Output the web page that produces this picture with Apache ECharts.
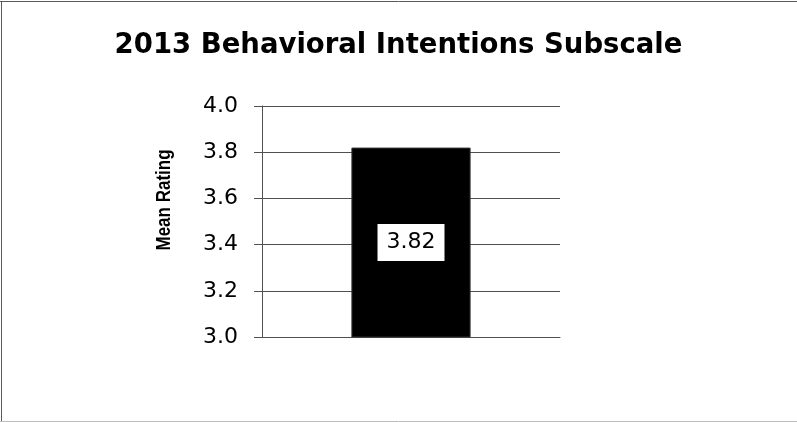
<!DOCTYPE html>
<html>
<head>
<meta charset="utf-8">
<script src="https://cdn.jsdelivr.net/npm/echarts@6/dist/echarts.min.js"></script>
<style>
  html, body { margin: 0; padding: 0; background: #fff; }
  #chart { width: 797px; height: 422px; }
</style>
</head>
<body>
<div id="chart"></div>
<script>
// Chart data
const chartTitle = '2013 Behavioral Intentions Subscale';
const categories = ['2013'];
const meanRatings = [3.82];
const yAxisName = 'Mean Rating';
const yMin = 3.0;
const yMax = 4.0;
const yStep = 0.2;

const chart = echarts.init(document.getElementById('chart'), null, { renderer: 'canvas' });

const lineColor = '#505050';

chart.setOption({
  animation: false,
  backgroundColor: '#ffffff',
  title: {
    text: chartTitle,
    left: 'center',
    top: 24,
    textStyle: {
      fontFamily: 'DejaVu Sans',
      fontWeight: 'bold',
      fontSize: 27.5,
      lineHeight: 34,
      color: '#000'
    }
  },
  grid: { left: 262, right: 237, top: 106, bottom: 85 },
  xAxis: {
    type: 'category',
    data: categories,
    axisLine: { show: true, lineStyle: { color: lineColor, width: 1 } },
    axisTick: { show: false },
    axisLabel: { show: false },
    splitLine: { show: false }
  },
  yAxis: {
    type: 'value',
    min: yMin,
    max: yMax,
    interval: yStep,
    axisLine: { show: true, lineStyle: { color: lineColor, width: 1 } },
    axisTick: { show: true, length: 8, inside: false, lineStyle: { color: lineColor } },
    axisLabel: {
      margin: 24,
      fontFamily: 'DejaVu Sans',
      fontSize: 22,
      color: '#000',
      formatter: v => v.toFixed(1)
    },
    splitLine: { show: true, lineStyle: { color: lineColor, width: 1 } }
  },
  series: [{
    type: 'bar',
    data: meanRatings,
    barWidth: '40%',
    itemStyle: { color: '#000', borderColor: '#333', borderWidth: 1 },
    label: {
      show: true,
      position: 'inside',
      formatter: p => p.value.toFixed(2),
      fontFamily: 'DejaVu Sans',
      fontSize: 22,
      lineHeight: 25,
      color: '#000',
      backgroundColor: '#fff',
      padding: [6, 9]
    }
  }],
  graphic: [
    // rotated y-axis title, widened slightly across the axis
    {
      type: 'text',
      x: 164,
      y: 200,
      rotation: Math.PI / 2,
      scaleY: 1.2,
      silent: true,
      style: {
        text: yAxisName,
        fontFamily: 'Liberation Sans',
        fontWeight: 'bold',
        fontSize: 17,
        fill: '#000',
        align: 'center',
        verticalAlign: 'middle'
      }
    },
    { type: 'line', shape: { x1: 0, y1: 1.5, x2: 797, y2: 1.5 }, style: { stroke: '#5a5a5a', lineWidth: 1 }, silent: true },
    { type: 'line', shape: { x1: 1.5, y1: 1, x2: 1.5, y2: 421 }, style: { stroke: '#5a5a5a', lineWidth: 1 }, silent: true },
    { type: 'line', shape: { x1: 0, y1: 421.5, x2: 797, y2: 421.5 }, style: { stroke: '#bdbdbd', lineWidth: 1 }, silent: true }
  ]
});
</script>
</body>
</html>
